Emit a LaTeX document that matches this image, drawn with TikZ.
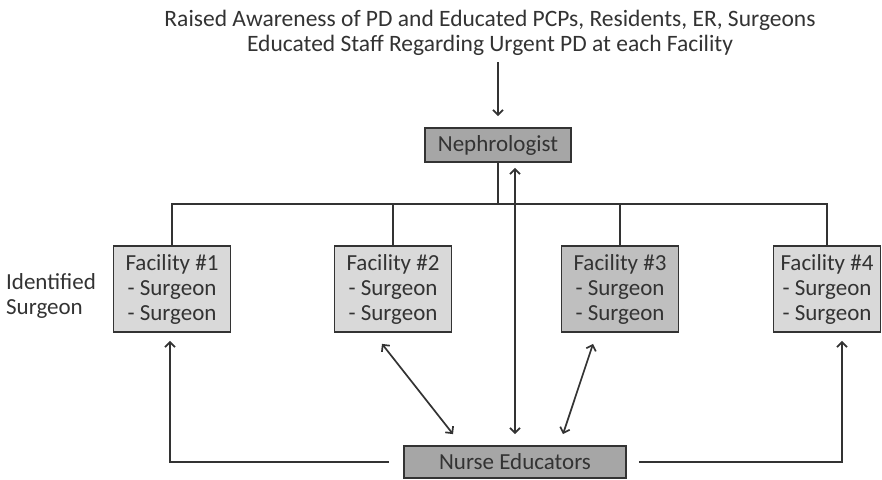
\documentclass[tikz,border=0pt]{standalone}
\usepackage{fontspec}
\setmainfont{Carlito}
\usetikzlibrary{calc,arrows.meta}
\definecolor{boxdark}{HTML}{A6A6A6}
\definecolor{boxmid}{HTML}{BFBFBF}
\definecolor{boxlight}{HTML}{D9D9D9}
\definecolor{inkgray}{HTML}{333333}
\tikzset{
  facbox/.style={draw=inkgray, line width=1.8pt, fill=boxlight, align=center,
    minimum width=117pt, minimum height=86pt, inner sep=0pt,
    font=\fontsize{23}{25}\selectfont},
  headbox/.style={draw=inkgray, line width=1.8pt, fill=boxdark,
    minimum height=34pt, inner sep=0pt, font=\fontsize{23}{25}\selectfont},
  conn/.style={draw=inkgray, line width=1.7pt},
  >={Straight Barb[length=5pt,width=10pt]}
}

\begin{document}
\begin{tikzpicture}[x=1pt, y=-1pt, text=inkgray]
    \useasboundingbox (0,0) rectangle (882,479);
    \node [align=center, font=\fontsize{23.5}{25}\selectfont] (aware) at
    (490,33) {Raised Awareness of PD and Educated PCPs, Residents, ER,
    Surgeons\\Educated Staff Regarding Urgent PD at each Facility};
    \node [headbox, minimum width=146pt] (neph) at (498,145) {Nephrologist};
    \node [facbox] (fac1) at (172,289) {Facility \#1\\ - Surgeon\\ - Surgeon};
    \node [facbox] (fac2) at (393,289) {Facility \#2\\ - Surgeon\\ - Surgeon};
    \node [facbox, fill=boxmid] (fac3) at (620,289) {Facility \#3\\ - Surgeon\\ - Surgeon};
    \node [facbox, minimum width=107pt] (fac4) at (827,289) {Facility \#4\\ - Surgeon\\ - Surgeon};
    \node [headbox, minimum width=222pt, minimum height=32pt] (nurse) at
    (515,462) {Nurse Educators};
    \node [align=left, font=\fontsize{23}{25}\selectfont] (ident) at (51,296)
    {Identified\\Surgeon};
    \coordinate (bar) at (0,204);
    % top arrow and tree
    \draw [conn, ->, shorten <=3pt, shorten >=11pt] (neph.north |- aware.south)
    -- (neph.north); \draw [conn] (neph.south) -- (neph.south |- bar);
    \draw [conn] (fac1.north) -- (fac1.north |- bar) -- (fac4.north |- bar)
    -- (fac4.north); \draw [conn] (fac2.north) -- (fac2.north |- bar);
    \draw [conn] (fac3.north) -- (fac3.north |- bar);
    % nurse educators links
    \draw [conn, <->, shorten <=5pt, shorten >=11pt] (nurse.north |- neph.south)
    -- (nurse.north); \draw [conn, <->] ([shift={(-11,11)}]fac2.south) --
    ([shift={(-62,-11)}]nurse.north); \draw [conn, <->]
    ([shift={(-27,11)}]fac3.south) -- ([shift={(48,-11)}]nurse.north);
    \draw [conn, ->, shorten <=14pt, shorten >=8pt] (nurse.west) -|
    ([xshift=-2]fac1.south); \draw [conn, ->, shorten <=12pt, shorten >=8pt]
    (nurse.east) -| ([xshift=15]fac4.south);
  \end{tikzpicture}
\end{document}
